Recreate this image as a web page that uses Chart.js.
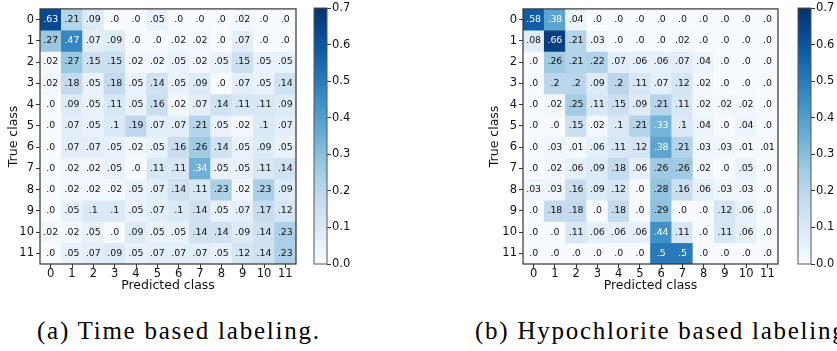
<!DOCTYPE html>
<html>
<head>
<meta charset="utf-8">
<script src="https://cdn.jsdelivr.net/npm/chart.js@4"></script>
<style>
  html, body { margin: 0; padding: 0; background: #fff; overflow: hidden; width: 837px; height: 351px; }
  canvas { position: absolute; top: 0; }
  .caption { position: absolute; top: 318px; font-family: 'Liberation Serif', serif; font-size: 25px; line-height: 25px; letter-spacing: 1.75px; color: #000; white-space: nowrap; }
</style>
</head>
<body>
<canvas id="cmTime" width="300" height="300" style="left:0px"></canvas>
<canvas id="cbTime" width="60" height="300" style="left:310px"></canvas>
<canvas id="cmHypo" width="300" height="300" style="left:480px"></canvas>
<canvas id="cbHypo" width="60" height="300" style="left:794px"></canvas>
<div class="caption" style="left:37px">(a) Time based labeling.</div>
<div class="caption" style="left:475px">(b) Hypochlorite based labeling.</div>
<script>
// Class indices shared by both axes
const classLabels = ['0', '1', '2', '3', '4', '5', '6', '7', '8', '9', '10', '11'];

// Colour bar tick values (also sets the colour scale range)
const colorbarTicks = [0.0, 0.1, 0.2, 0.3, 0.4, 0.5, 0.6, 0.7];

// Normalised confusion matrix, time based labeling (rows = true class)
const timeBased = [
  [.63, .21, .09, 0, 0, .05, 0, 0, 0, .02, 0, 0],
  [.27, .47, .07, .09, 0, 0, .02, .02, 0, .07, 0, 0],
  [.02, .27, .15, .15, .02, .02, .05, .02, .05, .15, .05, .05],
  [.02, .18, .05, .18, .05, .14, .05, .09, 0, .07, .05, .14],
  [0, .09, .05, .11, .05, .16, .02, .07, .14, .11, .11, .09],
  [0, .07, .05, .1, .19, .07, .07, .21, .05, .02, .1, .07],
  [0, .07, .07, .05, .02, .05, .16, .26, .14, .05, .09, .05],
  [0, .02, .02, .05, 0, .11, .11, .34, .05, .05, .11, .14],
  [0, .02, .02, .02, .05, .07, .14, .11, .23, .02, .23, .09],
  [0, .05, .1, .1, .05, .07, .1, .14, .05, .07, .17, .12],
  [.02, .02, .05, 0, .09, .05, .05, .14, .14, .09, .14, .23],
  [0, .05, .07, .09, .05, .07, .07, .07, .05, .12, .14, .23]
];

// Normalised confusion matrix, hypochlorite based labeling (rows = true class)
const hypochloriteBased = [
  [.58, .38, .04, 0, 0, 0, 0, 0, 0, 0, 0, 0],
  [.08, .66, .21, .03, 0, 0, 0, .02, 0, 0, 0, 0],
  [0, .26, .21, .22, .07, .06, .06, .07, .04, 0, 0, 0],
  [0, .2, .2, .09, .2, .11, .07, .12, .02, 0, 0, 0],
  [0, .02, .25, .11, .15, .09, .21, .11, .02, .02, .02, 0],
  [0, 0, .15, .02, .1, .21, .33, .1, .04, 0, .04, 0],
  [0, .03, .01, .06, .11, .12, .38, .21, .03, .03, .01, .01],
  [0, .02, .06, .09, .18, .06, .26, .26, .02, 0, .05, 0],
  [.03, .03, .16, .09, .12, 0, .28, .16, .06, .03, .03, 0],
  [0, .18, .18, 0, .18, 0, .29, 0, 0, .12, .06, 0],
  [0, 0, .11, .06, .06, .06, .44, .11, 0, .11, .06, 0],
  [0, 0, 0, 0, 0, 0, .5, .5, 0, 0, 0, 0]
];

Chart.defaults.font.family = "'DejaVu Sans', sans-serif";
Chart.defaults.color = '#111';

// Sequential "Blues" colour map anchors
const BLUES = [
  [247, 251, 255], [222, 235, 247], [198, 219, 239], [158, 202, 225], [107, 174, 214],
  [66, 146, 198], [33, 113, 181], [8, 81, 156], [8, 48, 107]
];
function blues(t) {
  t = Math.max(0, Math.min(1, t));
  const p = t * (BLUES.length - 1);
  const i = Math.min(BLUES.length - 2, Math.floor(p));
  const f = p - i;
  const a = BLUES[i], b = BLUES[i + 1];
  return 'rgb(' + a.map((c, k) => Math.round(c + (b[k] - c) * f)).join(',') + ')';
}

// ".63", ".1", ".0" style cell text
function fmt(v) {
  return v === 0 ? '.0' : String(v).replace(/^0/, '');
}

// Writes each cell's value and frames the matrix
const cellLabels = {
  id: 'cellLabels',
  afterDatasetsDraw(chart, args, opts) {
    const ctx = chart.ctx;
    ctx.save();
    ctx.font = "9.4px 'DejaVu Sans'";
    ctx.textAlign = 'center';
    ctx.textBaseline = 'middle';
    chart.data.datasets.forEach((ds, r) => {
      chart.getDatasetMeta(r).data.forEach((bar, c) => {
        const v = ds.values[c];
        ctx.fillStyle = v >= opts.whiteAbove ? '#ffffff' : '#111111';
        ctx.fillText(fmt(v), bar.x, (bar.y + bar.base) / 2);
      });
    });
    const a = chart.chartArea;
    ctx.strokeStyle = '#333';
    ctx.lineWidth = 1.2;
    ctx.strokeRect(a.left, a.top, a.right - a.left, a.bottom - a.top);
    ctx.restore();
  }
};

// Outline around the colour bar
const barFrame = {
  id: 'barFrame',
  afterDatasetsDraw(chart) {
    const ctx = chart.ctx, a = chart.chartArea;
    ctx.save();
    ctx.strokeStyle = '#555';
    ctx.lineWidth = 1;
    ctx.strokeRect(a.left, a.top, a.right - a.left, a.bottom - a.top);
    ctx.restore();
  }
};

const tickGrid = { drawOnChartArea: false, drawTicks: true, tickLength: 4, tickColor: '#333', lineWidth: 1 };

function matrixChart(id, matrix, yAxisWidth, rightPad, titlePad) {
  const vmax = colorbarTicks[colorbarTicks.length - 1];
  const whiteAbove = Math.max(...matrix.flat()) / 2 - 1e-9;
  const datasets = matrix.map((row, r) => ({
    label: classLabels[r],
    data: row.map(() => [r, r + 1]),
    values: row,
    backgroundColor: row.map(v => blues(v / vmax)),
    borderWidth: 0,
    grouped: false,
    barPercentage: 1,
    categoryPercentage: 1
  }));
  return new Chart(document.getElementById(id), {
    type: 'bar',
    data: { labels: classLabels, datasets },
    options: {
      responsive: false,
      animation: false,
      devicePixelRatio: 1,
      layout: { padding: { top: 8, right: rightPad, left: 0, bottom: 0 } },
      plugins: {
        legend: { display: false },
        tooltip: { enabled: false },
        cellLabels: { whiteAbove }
      },
      scales: {
        x: {
          type: 'category',
          offset: true,
          grid: Object.assign({ offset: false }, tickGrid),
          border: { display: false },
          ticks: { padding: -1, font: { size: 11.5 }, color: '#111', maxRotation: 0, autoSkip: false },
          title: { display: true, text: 'Predicted class', font: { size: 12.5 }, color: '#111', padding: { top: 0, bottom: 7 } },
          afterFit: ax => { ax.height = 36; }
        },
        y: {
          type: 'linear',
          min: 0,
          max: classLabels.length,
          reverse: true,
          afterBuildTicks: ax => { ax.ticks = classLabels.map((_, i) => ({ value: i + 0.5 })); },
          grid: tickGrid,
          border: { display: false },
          ticks: { padding: 2, font: { size: 11.5 }, color: '#111', autoSkip: false, callback: (v, i) => classLabels[i] },
          title: { display: true, text: 'True class', font: { size: 12.5 }, color: '#111', padding: { top: titlePad, bottom: 0 } },
          afterFit: ax => { ax.width = yAxisWidth; }
        }
      }
    },
    plugins: [cellLabels]
  });
}

function colorbarChart(id) {
  const lo = colorbarTicks[0], hi = colorbarTicks[colorbarTicks.length - 1];
  return new Chart(document.getElementById(id), {
    type: 'bar',
    data: {
      labels: [''],
      datasets: [{
        data: [[lo, hi]],
        backgroundColor: c => {
          const a = c.chart.chartArea;
          if (!a) return blues(0.5);
          const g = c.chart.ctx.createLinearGradient(0, a.bottom, 0, a.top);
          BLUES.forEach((col, i) => g.addColorStop(i / (BLUES.length - 1), 'rgb(' + col.join(',') + ')'));
          return g;
        },
        borderWidth: 0,
        barPercentage: 1,
        categoryPercentage: 1
      }]
    },
    options: {
      responsive: false,
      animation: false,
      devicePixelRatio: 1,
      layout: { padding: { left: 4, top: 8, bottom: 36, right: 0 } },
      plugins: { legend: { display: false }, tooltip: { enabled: false } },
      scales: {
        x: { display: false },
        y: {
          position: 'right',
          min: lo,
          max: hi,
          afterBuildTicks: ax => { ax.ticks = colorbarTicks.map(v => ({ value: v })); },
          afterFit: ax => { ax.width = 43; },
          grid: tickGrid,
          border: { display: false },
          ticks: { padding: 1, font: { size: 11.5 }, color: '#111', autoSkip: false, callback: v => Number(v).toFixed(1) }
        }
      }
    },
    plugins: [barFrame]
  });
}

matrixChart('cmTime', timeBased, 40, 4, 6.5);
colorbarChart('cbTime');
matrixChart('cmHypo', hypochloriteBased, 43, 2, 7.5);
colorbarChart('cbHypo');
</script>
</body>
</html>
